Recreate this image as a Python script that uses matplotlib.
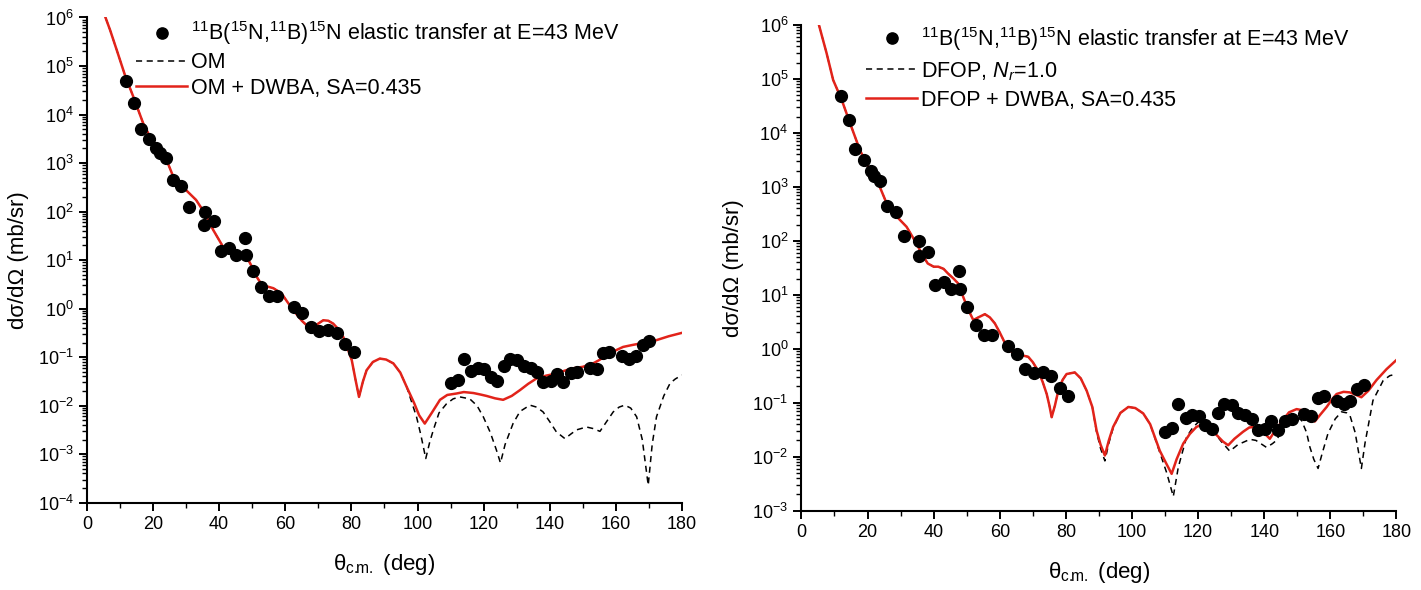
import numpy as np
import matplotlib
matplotlib.use("Agg")
import matplotlib.pyplot as plt
from matplotlib.ticker import LogLocator, MultipleLocator, NullFormatter

plt.rcParams["font.family"] = ["Liberation Sans", "DejaVu Sans"]
plt.rcParams["mathtext.fontset"] = "custom"
plt.rcParams["mathtext.rm"] = "Liberation Sans"
plt.rcParams["mathtext.it"] = "Liberation Sans:italic"
plt.rcParams["mathtext.bf"] = "Liberation Sans:bold"

# ---- measured 11B(15N,11B)15N cross sections, E = 43 MeV ----
theta_exp = [11.9, 14.3, 16.2, 18.9, 21.0, 22.0, 23.8, 25.9, 28.6, 30.9, 35.5, 35.7,
             38.3, 40.4, 43.0, 45.2, 47.8, 48.0, 50.2, 52.7, 55.2, 57.5, 62.6, 65.2,
             67.7, 70.3, 73.0, 75.5, 78.2, 80.7, 110.1, 112.1, 114.0, 116.2, 118.2,
             120.2, 122.2, 124.2, 126.1, 127.9, 130.2, 132.2, 134.3, 136.2, 138.0,
             140.3, 142.1, 144.1, 146.3, 148.3, 152.1, 154.2, 156.2, 158.0, 162.0,
             164.0, 166.0, 168.1, 170.1]
sigma_exp = [4.8e4, 1.75e4, 5.1e3, 3.2e3, 2.0e3, 1.6e3, 1.3e3, 450, 340, 124, 53, 100,
             63, 15.4, 17.4, 12.6, 28, 12.6, 6.0, 2.8, 1.8, 1.8, 1.1, 0.80,
             0.42, 0.35, 0.37, 0.31, 0.19, 0.13, 0.029, 0.034, 0.093, 0.051, 0.059,
             0.057, 0.039, 0.032, 0.065, 0.093, 0.089, 0.065, 0.060, 0.050, 0.031,
             0.032, 0.045, 0.031, 0.046, 0.050, 0.061, 0.057, 0.12, 0.13, 0.105,
             0.093, 0.105, 0.18, 0.21]

# ---- OM + DWBA (log10 of mb/sr) ----
theta_om_dwba = [5.6, 7.0, 9.0, 11.5, 14.0, 17.0, 19.0, 21.1, 24.1, 26.1, 28.0, 30.0,
                 33.0, 35.7, 38.2, 41.2, 44.2, 46.5, 48.3, 50.0, 51.3, 52.8, 54.3, 56.4,
                 58.9, 60.5, 62.4, 65.0, 67.5, 69.5, 71.5, 73.0, 74.5, 76.0, 77.5, 79.0,
                 80.1, 81.2, 82.3, 83.5, 84.6, 86.5, 88.6, 90.5, 92.7, 94.8, 96.7, 99.0,
                 100.5, 102.2, 104.3, 106.8, 109.0, 111.8, 114.0, 116.9, 119.0, 120.9,
                 123.5, 125.9, 128.5, 131.0, 133.5, 136.0, 139.0, 142.0, 144.5, 147.1,
                 150.0, 153.1, 155.0, 157.2, 160.0, 162.2, 165.0, 167.3, 170.0, 172.3,
                 176.0, 180.0]
lg_om_dwba = [6.0, 5.74, 5.33, 4.81, 4.37, 3.82, 3.55, 3.34, 3.06, 2.72, 2.58, 2.44,
              2.24, 1.96, 1.62, 1.27, 1.17, 1.13, 1.07, 0.85, 0.66, 0.50, 0.46, 0.42,
              0.31, 0.15, -0.03, -0.25, -0.41, -0.33, -0.24, -0.25, -0.31, -0.42, -0.58, -0.85,
              -1.06, -1.45, -1.82, -1.50, -1.27, -1.10, -1.03, -1.05, -1.13, -1.32, -1.61, -1.95,
              -2.20, -2.37, -2.15, -1.88, -1.78, -1.75, -1.72, -1.74, -1.77, -1.80,
              -1.85, -1.88, -1.80, -1.68, -1.55, -1.44, -1.38, -1.34, -1.28, -1.23,
              -1.20, -1.13, -1.06, -0.96, -0.86, -0.79, -0.75, -0.72, -0.70, -0.65,
              -0.57, -0.50]

# ---- pure OM: identical to OM + DWBA at forward angles ----
theta_om_back = [96.7, 99.7, 101.0, 102.5, 103.7, 104.8, 106.5, 108.8, 110.8, 112.8, 115.8,
                 118.0, 119.9, 122.0, 123.8, 125.1, 126.5, 128.9, 131.0, 134.0, 136.0, 138.0,
                 140.0, 142.0, 144.6, 146.5, 148.1, 151.1, 153.0, 155.2, 157.5, 159.2, 161.0,
                 162.7, 164.5, 166.3, 168.0, 169.8, 171.0, 172.3, 174.5, 176.4, 178.0, 180.0]
lg_om_back = [-1.61, -2.23, -2.60, -3.09, -2.75, -2.50, -2.15, -1.96, -1.86, -1.82, -1.86,
              -2.00, -2.23, -2.55, -2.90, -3.18, -2.80, -2.37, -2.12, -1.99, -2.03, -2.13,
              -2.33, -2.54, -2.68, -2.58, -2.50, -2.44, -2.47, -2.53, -2.30, -2.13, -2.03,
              -1.99, -2.05, -2.23, -2.70, -3.64, -2.80, -2.23, -1.80, -1.54, -1.45, -1.37]
theta_om = theta_om_dwba[:46] + theta_om_back
lg_om = lg_om_dwba[:46] + lg_om_back

# ---- DFOP + DWBA (log10 of mb/sr) ----
theta_dfop_dwba = [5.3, 7.6, 9.6, 12.2, 14.7, 17.7, 20.7, 23.7, 25.8, 28.8, 31.8, 34.8,
                   36.5, 38.2, 40.0, 41.4, 43.0, 44.4, 46.0, 47.4, 49.0, 50.5, 52.0, 53.5,
                   55.5, 57.0, 58.5, 60.0, 61.6, 63.0, 64.6, 66.5, 68.6, 70.0, 71.6, 73.0,
                   74.2, 75.0, 75.7, 76.7, 77.7, 79.0, 80.2, 82.7, 84.5, 86.3, 88.0, 89.3,
                   90.5, 91.8, 93.0, 94.3, 96.5, 98.9, 101.0, 103.4, 105.5, 108.4, 110.3,
                   112.0, 113.5, 115.5, 117.5, 119.5, 121.0, 122.6, 124.0, 125.6, 127.5,
                   129.1, 131.0, 133.6, 135.5, 137.7, 139.8, 141.7, 143.5, 145.7, 147.5,
                   149.8, 151.5, 152.8, 155.3, 157.0, 158.9, 160.5, 161.9, 164.0, 165.9,
                   167.5, 169.4, 171.5, 174.0, 177.0, 180.0]
lg_dfop_dwba = [6.0, 5.48, 4.98, 4.61, 4.18, 3.68, 3.31, 3.00, 2.69, 2.45, 2.26, 1.95,
                1.75, 1.58, 1.52, 1.52, 1.48, 1.39, 1.30, 1.21, 0.95, 0.72, 0.53, 0.58,
                0.64, 0.58, 0.47, 0.30, 0.10, -0.02, -0.12, -0.12, -0.15, -0.25, -0.41, -0.62,
                -0.84, -1.05, -1.27, -1.05, -0.78, -0.58, -0.47, -0.44, -0.55, -0.78, -1.08, -1.52,
                -1.78, -1.98, -1.70, -1.45, -1.19, -1.08, -1.10, -1.20, -1.40, -1.89, -2.12,
                -2.32, -2.05, -1.76, -1.58, -1.45, -1.41, -1.42, -1.50, -1.60, -1.72,
                -1.79, -1.67, -1.54, -1.46, -1.45, -1.55, -1.67, -1.50, -1.32, -1.18,
                -1.12, -1.14, -1.20, -1.35, -1.22, -1.08, -0.94, -0.84, -0.80, -0.81,
                -0.85, -0.90, -0.78, -0.58, -0.38, -0.21]

# ---- pure DFOP (N_r = 1.0): identical to DFOP + DWBA at forward angles ----
theta_dfop_back = [86.3, 88.0, 89.3, 90.5, 91.8, 93.0, 94.3, 96.5, 98.9, 101.0, 103.4, 105.5,
                   108.4, 110.5, 112.5, 114.0, 116.5, 118.5, 120.5, 122.5, 124.6, 127.0,
                   129.6, 132.0, 135.7, 137.5, 140.7, 142.5, 143.7, 145.5, 147.8, 149.5,
                   151.3, 152.8, 153.8, 155.0, 156.3, 157.5, 159.3, 161.5, 163.4, 165.0,
                   165.9, 167.5, 168.5, 169.4, 170.5, 172.9, 176.0, 178.0, 180.0]
lg_dfop_back = [-0.78, -1.08, -1.55, -1.85, -2.08, -1.75, -1.47, -1.19, -1.08, -1.10, -1.20, -1.40,
                -1.92, -2.30, -2.74, -2.20, -1.64, -1.45, -1.34, -1.38, -1.53, -1.72,
                -1.90, -1.78, -1.68, -1.70, -1.83, -1.76, -1.70, -1.50, -1.27, -1.25,
                -1.33, -1.55, -1.82, -2.05, -2.22, -1.95, -1.57, -1.30, -1.17, -1.19,
                -1.23, -1.55, -1.90, -2.22, -1.75, -0.96, -0.59, -0.50, -0.47]
theta_dfop = theta_dfop_dwba[:45] + theta_dfop_back
lg_dfop = lg_dfop_dwba[:45] + lg_dfop_back

LABEL_EXP = r"$^{11}$B($^{15}$N,$^{11}$B)$^{15}$N elastic transfer at E=43 MeV"
RED = "#e2231a"


def style_axes(ax, ymin, ymax):
    ax.set_yscale("log")
    ax.set_xlim(0, 180)
    ax.set_ylim(ymin, ymax)
    for side in ("top", "right"):
        ax.spines[side].set_visible(False)
    for side in ("left", "bottom"):
        ax.spines[side].set_linewidth(1.5)
    ax.xaxis.set_major_locator(MultipleLocator(20))
    ax.xaxis.set_minor_locator(MultipleLocator(10))
    ax.yaxis.set_major_locator(LogLocator(base=10, numticks=20))
    ax.yaxis.set_minor_locator(LogLocator(base=10, subs=np.arange(2, 10), numticks=20))
    ax.yaxis.set_minor_formatter(NullFormatter())
    ax.tick_params(which="major", direction="out", length=6, width=1.4, labelsize=13)
    ax.tick_params(which="minor", direction="out", length=3.5, width=1.0)
    ax.set_xlabel(r"θ$_{\mathrm{c.\!\!m.}}$ (deg)", fontsize=16, labelpad=14)
    ax.set_ylabel("dσ/dΩ (mb/sr)", fontsize=16, labelpad=6)


fig = plt.figure(figsize=(14.21, 5.90), dpi=100)
ax1 = fig.add_axes([0.0612, 0.148, 0.4187, 0.8224])
ax2 = fig.add_axes([0.5640, 0.1347, 0.4187, 0.8229])

# left: optical model
style_axes(ax1, 1e-4, 1e6)
ax1.plot(theta_exp, sigma_exp, "o", color="black", ms=8.5, label=LABEL_EXP, zorder=4)
ax1.plot(theta_om, 10.0 ** np.array(lg_om), color="black", lw=1.1,
         ls=(0, (4, 3)), label="OM", zorder=2)
ax1.plot(theta_om_dwba, 10.0 ** np.array(lg_om_dwba), color=RED, lw=1.8,
         label="OM + DWBA, SA=0.435", zorder=3)
ax1.legend(loc="upper left", bbox_to_anchor=(0.082, 0.996), frameon=False,
           fontsize=15.5, handlelength=2.4, handletextpad=0.15, labelspacing=0.22,
           borderaxespad=0, borderpad=0, numpoints=1, markerscale=0.95)

# right: double-folding optical potential
style_axes(ax2, 1e-3, 1e6)
ax2.plot(theta_exp, sigma_exp, "o", color="black", ms=8.5, label=LABEL_EXP, zorder=4)
ax2.plot(theta_dfop, 10.0 ** np.array(lg_dfop), color="black", lw=1.1,
         ls=(0, (4, 3)), label=r"DFOP, $N_r$=1.0", zorder=2)
ax2.plot(theta_dfop_dwba, 10.0 ** np.array(lg_dfop_dwba), color=RED, lw=1.8,
         label="DFOP + DWBA, SA=0.435", zorder=3)
ax2.legend(loc="upper left", bbox_to_anchor=(0.108, 1.0), frameon=False,
           fontsize=15.5, handlelength=2.4, handletextpad=0.15, labelspacing=0.33,
           borderaxespad=0, borderpad=0, numpoints=1, markerscale=0.95)

fig.savefig("out.png", dpi=100)
